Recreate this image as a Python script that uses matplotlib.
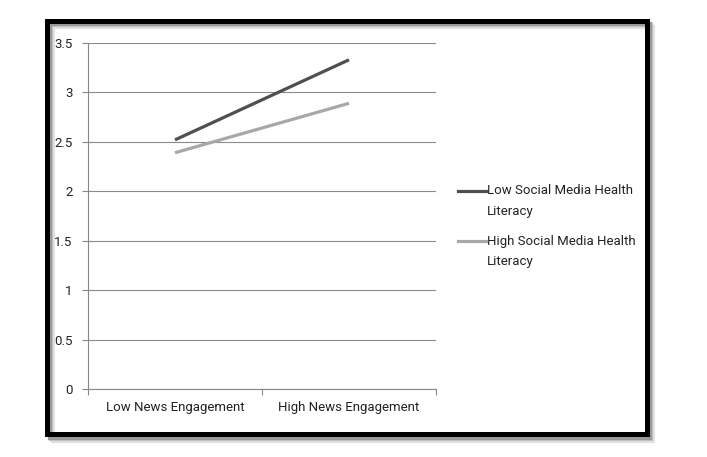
import matplotlib.pyplot as plt
from matplotlib.patches import Rectangle
from matplotlib.lines import Line2D

plt.rcParams['font.family'] = ['Roboto', 'DejaVu Sans']

categories = ['Low News Engagement', 'High News Engagement']
low_smhl = [2.52, 3.33]
high_smhl = [2.39, 2.89]
series_names = ['Low Social Media Health\nLiteracy', 'High Social Media Health\nLiteracy']
series_colors = ['#4f4f4f', '#a8a8a8']
yticks = [0, 0.5, 1, 1.5, 2, 2.5, 3, 3.5]
ytick_labels = ['0', '0.5', '1', '1.5', '2', '2.5', '3', '3.5']

W, H = 707, 457
fig = plt.figure(figsize=(W / 100, H / 100), dpi=100)
fig.patch.set_facecolor('white')

# outer chart frame with soft shadow
for off, col in [(6, '#e2e2e2'), (4, '#c4c4c4'), (2.5, '#9a9a9a')]:
    fig.patches.append(Rectangle((47 / W + off / W, 1 - 435 / H - off / H), 600 / W, 414 / H,
                                 transform=fig.transFigure, fill=False, lw=3, ec=col, zorder=0))
fig.patches.append(Rectangle((47 / W, 1 - 434 / H), 600 / W, 413 / H,
                             transform=fig.transFigure, fill=False, lw=3.6, ec='black', zorder=1))

ax = fig.add_axes([88 / W, 1 - 389 / H, (436 - 88) / W, (389 - 43) / H])
x = [0.5, 1.5]
ax.plot(x, low_smhl, color=series_colors[0], lw=2.3, solid_capstyle='butt')
ax.plot(x, high_smhl, color=series_colors[1], lw=2.3, solid_capstyle='butt')

ax.set_xlim(0, 2)
ax.set_ylim(0, 3.5)
ax.set_yticks(yticks)
ax.set_yticklabels(ytick_labels)
ax.set_xticks([0, 1, 2], minor=False)
ax.set_xticklabels(['', '', ''])
ax.set_xticks(x, minor=True)
ax.set_xticklabels(categories, minor=True)
ax.tick_params(axis='x', which='minor', length=0, pad=9, labelsize=9.5, colors='#222222')
ax.tick_params(axis='x', which='major', length=4, color='#888888')
ax.tick_params(axis='y', length=4, color='#888888', labelsize=9.5, labelcolor='#222222', pad=7)
ax.grid(axis='y', color='#8a8a8a', lw=0.8)
ax.set_axisbelow(True)
for s in ['top', 'right']:
    ax.spines[s].set_visible(False)
for s in ['left', 'bottom']:
    ax.spines[s].set_color('#888888')
    ax.spines[s].set_linewidth(0.8)

# legend on the right
for i, (name, col) in enumerate(zip(series_names, series_colors)):
    yy = 1 - (191 + 50 * i) / H
    fig.lines.append(Line2D([458 / W, 486 / W], [yy, yy], transform=fig.transFigure,
                            color=col, lw=2.3))
    for j, part in enumerate(name.split('\n')):
        fig.text(487 / W, yy - 21 * j / H, part, fontsize=9.5, va='center', ha='left',
                 color='#222222')

fig.savefig('out.png', dpi=100)
